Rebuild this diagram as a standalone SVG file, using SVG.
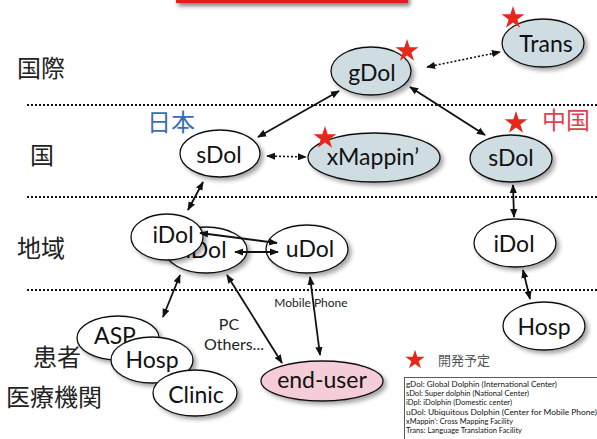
<svg xmlns="http://www.w3.org/2000/svg" width="597" height="439" viewBox="0 0 597 439">
<style>
.node{stroke:#111;stroke-width:1.3;filter:url(#sh)}
.w{fill:#fff}
.b{fill:#cfdde3}
.p{fill:#f5cdd8}
.lbl{font-family:Lato,"Open Sans","Liberation Sans",sans-serif;font-size:23px;fill:#111;text-anchor:middle}
.jp{font-family:"Noto Sans CJK JP","Noto Sans",sans-serif;font-size:24px;fill:#222}
.sep{stroke:#111;stroke-width:2;stroke-dasharray:2 2;fill:none}
.arr{stroke:#111;stroke-width:1.8;fill:none;marker-start:url(#ah);marker-end:url(#ah)}
.dot{stroke-dasharray:2 2;stroke-width:1.6}
.star{fill:#e8261c}
.leg{font-family:Lato,"Open Sans","Liberation Sans",sans-serif;font-size:8px;fill:#111}
.small{font-family:Lato,"Open Sans","Liberation Sans",sans-serif;fill:#222;text-anchor:middle}
</style>
<defs>
<filter id="sh" x="-20%" y="-20%" width="150%" height="160%">
<feDropShadow dx="3" dy="3" stdDeviation="2" flood-color="#000" flood-opacity="0.35"/>
</filter>
<filter id="bsh" x="-10%" y="-50%" width="120%" height="300%">
<feDropShadow dx="2" dy="3" stdDeviation="2" flood-color="#000" flood-opacity="0.5"/>
</filter>
<marker id="ah" viewBox="0 0 10 10" refX="9" refY="5" markerWidth="9" markerHeight="9" markerUnits="userSpaceOnUse" orient="auto-start-reverse">
<path d="M0,1 L10,5 L0,9 Z" fill="#111"/>
</marker>
<path id="st" d="M0,-12 L2.69,-3.71 L11.41,-3.71 L4.36,1.42 L7.05,9.71 L0,4.58 L-7.05,9.71 L-4.36,1.42 L-11.41,-3.71 L-2.69,-3.71 Z"/>
</defs>
<rect width="597" height="439" fill="#fff"/>

<g id="title-bar">
<rect x="176" y="-10" width="232" height="13" fill="#e31e24" filter="url(#bsh)"/>
</g>

<g id="separators">
<line class="sep" x1="27" y1="105" x2="597" y2="105"/>
<line class="sep" x1="27" y1="197" x2="597" y2="197"/>
<line class="sep" x1="27" y1="290" x2="597" y2="290"/>
</g>

<g id="level-labels">
<text class="jp" x="17" y="77">国際</text>
<text class="jp" x="30" y="164">国</text>
<text class="jp" x="17" y="257">地域</text>
<text class="jp" x="33" y="366">患者</text>
<text class="jp" x="6" y="406" font-size="25">医療機関</text>
<text class="jp" x="147" y="131" fill="#3a6db5" style="fill:#3a6db5">日本</text>
<text class="jp" x="542" y="129" style="fill:#e2404c">中国</text>
</g>

<g id="connectors">
<line class="arr" x1="258" y1="137" x2="339" y2="91"/>
<line class="arr" x1="410" y1="87" x2="485" y2="135"/>
<line class="arr dot" x1="427" y1="67" x2="500" y2="52"/>
<line class="arr dot" x1="267" y1="156" x2="306" y2="157"/>
<line class="arr" x1="203" y1="182" x2="188" y2="210"/>
<line class="arr" x1="513" y1="185" x2="514" y2="217"/>
<line class="arr" x1="523" y1="270" x2="530" y2="299"/>
<line class="arr" x1="180" y1="275" x2="163" y2="317"/>
<line class="arr" x1="227" y1="275" x2="282" y2="363"/>
<line class="arr" x1="310" y1="277" x2="320" y2="355"/>
</g>

<g id="trans">
<ellipse class="node b" cx="543" cy="43" rx="41" ry="24"/>
<text class="lbl" x="546" y="52">Trans</text>
<use href="#st" class="star" x="513" y="18" transform="translate(0,0)"/>
</g>

<g id="gdol">
<ellipse class="node b" cx="371" cy="71" rx="40" ry="24"/>
<text class="lbl" x="372" y="81">gDol</text>
<use href="#st" class="star" x="407" y="51"/>
</g>

<g id="sdol-jp">
<ellipse class="node w" cx="220" cy="153.5" rx="40" ry="23.5"/>
<text class="lbl" x="219" y="163">sDol</text>
</g>

<g id="xmappin">
<ellipse class="node b" cx="374" cy="157.5" rx="66" ry="24.5"/>
<text class="lbl" x="373" y="165">xMappin’</text>
<use href="#st" class="star" x="325" y="138"/>
</g>

<g id="sdol-cn">
<ellipse class="node b" cx="511" cy="158.5" rx="41" ry="23.5"/>
<text class="lbl" x="511" y="166">sDol</text>
<use href="#st" class="star" x="516" y="123"/>
</g>

<g id="idol-cn">
<ellipse class="node w" cx="515" cy="243" rx="41" ry="24"/>
<text class="lbl" x="514" y="252">iDol</text>
</g>

<g id="hosp-cn">
<ellipse class="node w" cx="544" cy="326" rx="41" ry="24"/>
<text class="lbl" x="544" y="335">Hosp</text>
</g>

<g id="idol-back">
<ellipse class="node w" cx="206" cy="250" rx="41" ry="23"/>
<text class="lbl" x="206" y="258">iDol</text>
</g>

<g id="idol-front">
<ellipse class="node w" cx="167" cy="237" rx="36" ry="23"/>
<text class="lbl" x="173" y="243">iDol</text>
</g>

<g id="udol">
<ellipse class="node w" cx="307" cy="249" rx="41" ry="24"/>
<text class="lbl" x="310" y="257">uDol</text>
</g>

<g id="idol-udol-arrows">
<line class="arr" x1="200" y1="233" x2="277" y2="243"/>
<line class="arr" x1="235" y1="252" x2="278" y2="252"/>
</g>

<g id="asp">
<ellipse class="node w" cx="118" cy="338" rx="41" ry="22"/>
<text class="lbl" x="115" y="344">ASP</text>
</g>

<g id="hosp-jp">
<ellipse class="node w" cx="152" cy="360" rx="41" ry="23"/>
<text class="lbl" x="152" y="368">Hosp</text>
</g>

<g id="clinic">
<ellipse class="node w" cx="195" cy="393" rx="42" ry="23"/>
<text class="lbl" x="196" y="403">Clinic</text>
</g>

<g id="end-user">
<ellipse class="node p" cx="322" cy="381" rx="61" ry="20"/>
<text class="lbl" x="322" y="388">end-user</text>
</g>

<g id="edge-labels">
<text class="small" x="311" y="307" font-size="12">Mobile Phone</text>
<text class="small" x="229" y="330" font-size="16">PC</text>
<text class="small" x="234" y="350" font-size="16">Others...</text>
</g>

<g id="legend">
<use href="#st" class="star" x="415" y="360" transform="translate(415,360) scale(0.85) translate(-415,-360)"/>
<text x="438" y="365" style="font-family:'Noto Sans CJK JP',sans-serif;font-size:13px;fill:#555">開発予定</text>
<rect x="404.5" y="377.5" width="200" height="70" fill="#fff" stroke="#333" stroke-width="0.8"/>
<text class="leg" x="406" y="386.5" textLength="151" lengthAdjust="spacingAndGlyphs">gDol: Global Dolphin (International Center)</text>
<text class="leg" x="406" y="396" textLength="123" lengthAdjust="spacingAndGlyphs">sDol: Super dolphin (National Center)</text>
<text class="leg" x="406" y="405.3" textLength="106" lengthAdjust="spacingAndGlyphs">iDpl: iDolphin (Domestic center)</text>
<text class="leg" x="406" y="414.6" textLength="191" lengthAdjust="spacingAndGlyphs">uDol: Ubiquitous Dolphin (Center for Mobile Phone)</text>
<text class="leg" x="406" y="423.9" textLength="107" lengthAdjust="spacingAndGlyphs">xMappin’: Cross Mapping Facility</text>
<text class="leg" x="406" y="433.2" textLength="116" lengthAdjust="spacingAndGlyphs">Trans: Language Translation Facility</text>
</g>
</svg>
